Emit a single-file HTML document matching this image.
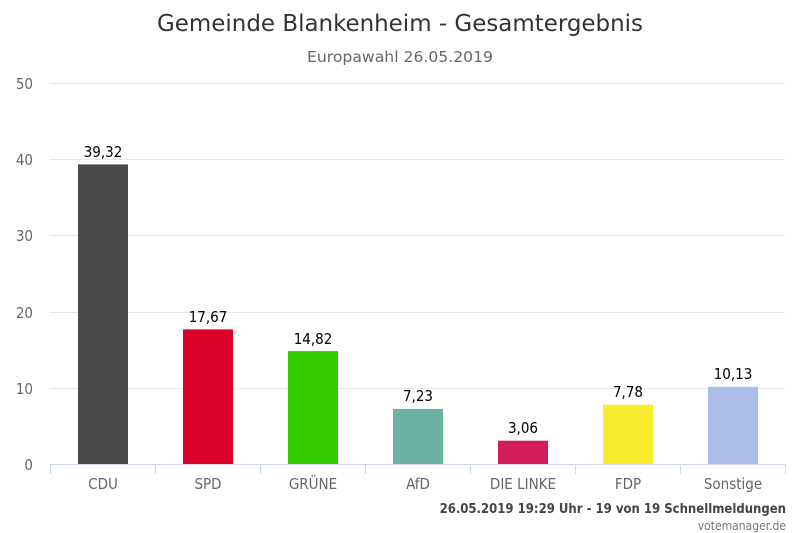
<!DOCTYPE html><html><head><meta charset="utf-8"><style>body{margin:0;background:#fff}svg{display:block}text{font-family:"DejaVu Sans Condensed","DejaVu Sans","Liberation Sans",sans-serif}</style></head><body>
<svg width="800" height="533" xmlns="http://www.w3.org/2000/svg">
<text x="157" y="31" font-size="23" fill="#333" textLength="486" lengthAdjust="spacingAndGlyphs">Gemeinde Blankenheim - Gesamtergebnis</text>
<text x="307" y="62" font-size="15" fill="#666" textLength="186" lengthAdjust="spacingAndGlyphs">Europawahl 26.05.2019</text>
<g stroke="#e6e6e6" stroke-width="1">
<line x1="50" x2="785" y1="83.5" y2="83.5"/><line x1="50" x2="785" y1="159.5" y2="159.5"/><line x1="50" x2="785" y1="235.5" y2="235.5"/><line x1="50" x2="785" y1="312.5" y2="312.5"/><line x1="50" x2="785" y1="388.5" y2="388.5"/></g>
<g font-size="15" fill="#666" text-anchor="end">
<text x="33" y="89">50</text><text x="33" y="165">40</text><text x="33" y="241">30</text><text x="33" y="318">20</text><text x="33" y="394">10</text><text x="33" y="470">0</text></g>
<g>
<rect x="78" y="164.4" width="50" height="299.6" fill="#4a4a4a"/>
<rect x="183" y="329.4" width="50" height="134.6" fill="#d9002a"/>
<rect x="288" y="351.1" width="50" height="112.9" fill="#33cc00"/>
<rect x="393" y="408.9" width="50" height="55.1" fill="#6db3a4"/>
<rect x="498" y="440.7" width="50" height="23.3" fill="#d11b5b"/>
<rect x="603" y="404.7" width="50" height="59.3" fill="#f9ec2e"/>
<rect x="708" y="386.8" width="50" height="77.2" fill="#a9bde6"/>
</g>
<g font-size="15" fill="#000" text-anchor="middle">
<text x="103" y="157">39,32</text><text x="208" y="322">17,67</text><text x="313" y="344">14,82</text><text x="418" y="401">7,23</text><text x="523" y="433">3,06</text><text x="628" y="397">7,78</text><text x="733" y="379">10,13</text></g>
<line x1="50" x2="785" y1="464.5" y2="464.5" stroke="#ccd6eb"/>
<g stroke="#ccd6eb"><line x1="50.5" x2="50.5" y1="464" y2="474"/><line x1="155.5" x2="155.5" y1="464" y2="474"/><line x1="260.5" x2="260.5" y1="464" y2="474"/><line x1="365.5" x2="365.5" y1="464" y2="474"/><line x1="470.5" x2="470.5" y1="464" y2="474"/><line x1="575.5" x2="575.5" y1="464" y2="474"/><line x1="680.5" x2="680.5" y1="464" y2="474"/><line x1="785.5" x2="785.5" y1="464" y2="474"/></g>
<g font-size="15" fill="#666" text-anchor="middle">
<text x="103" y="489">CDU</text><text x="208" y="489">SPD</text><text x="313" y="489">GRÜNE</text><text x="418" y="489">AfD</text><text x="523" y="489">DIE LINKE</text><text x="628" y="489">FDP</text><text x="733" y="489">Sonstige</text></g>
<text x="786" y="513" font-size="13" font-weight="bold" fill="#444" text-anchor="end">26.05.2019 19:29 Uhr - 19 von 19 Schnellmeldungen</text>
<text x="786" y="530" font-size="12" fill="#777" text-anchor="end">votemanager.de</text>
</svg></body></html>
